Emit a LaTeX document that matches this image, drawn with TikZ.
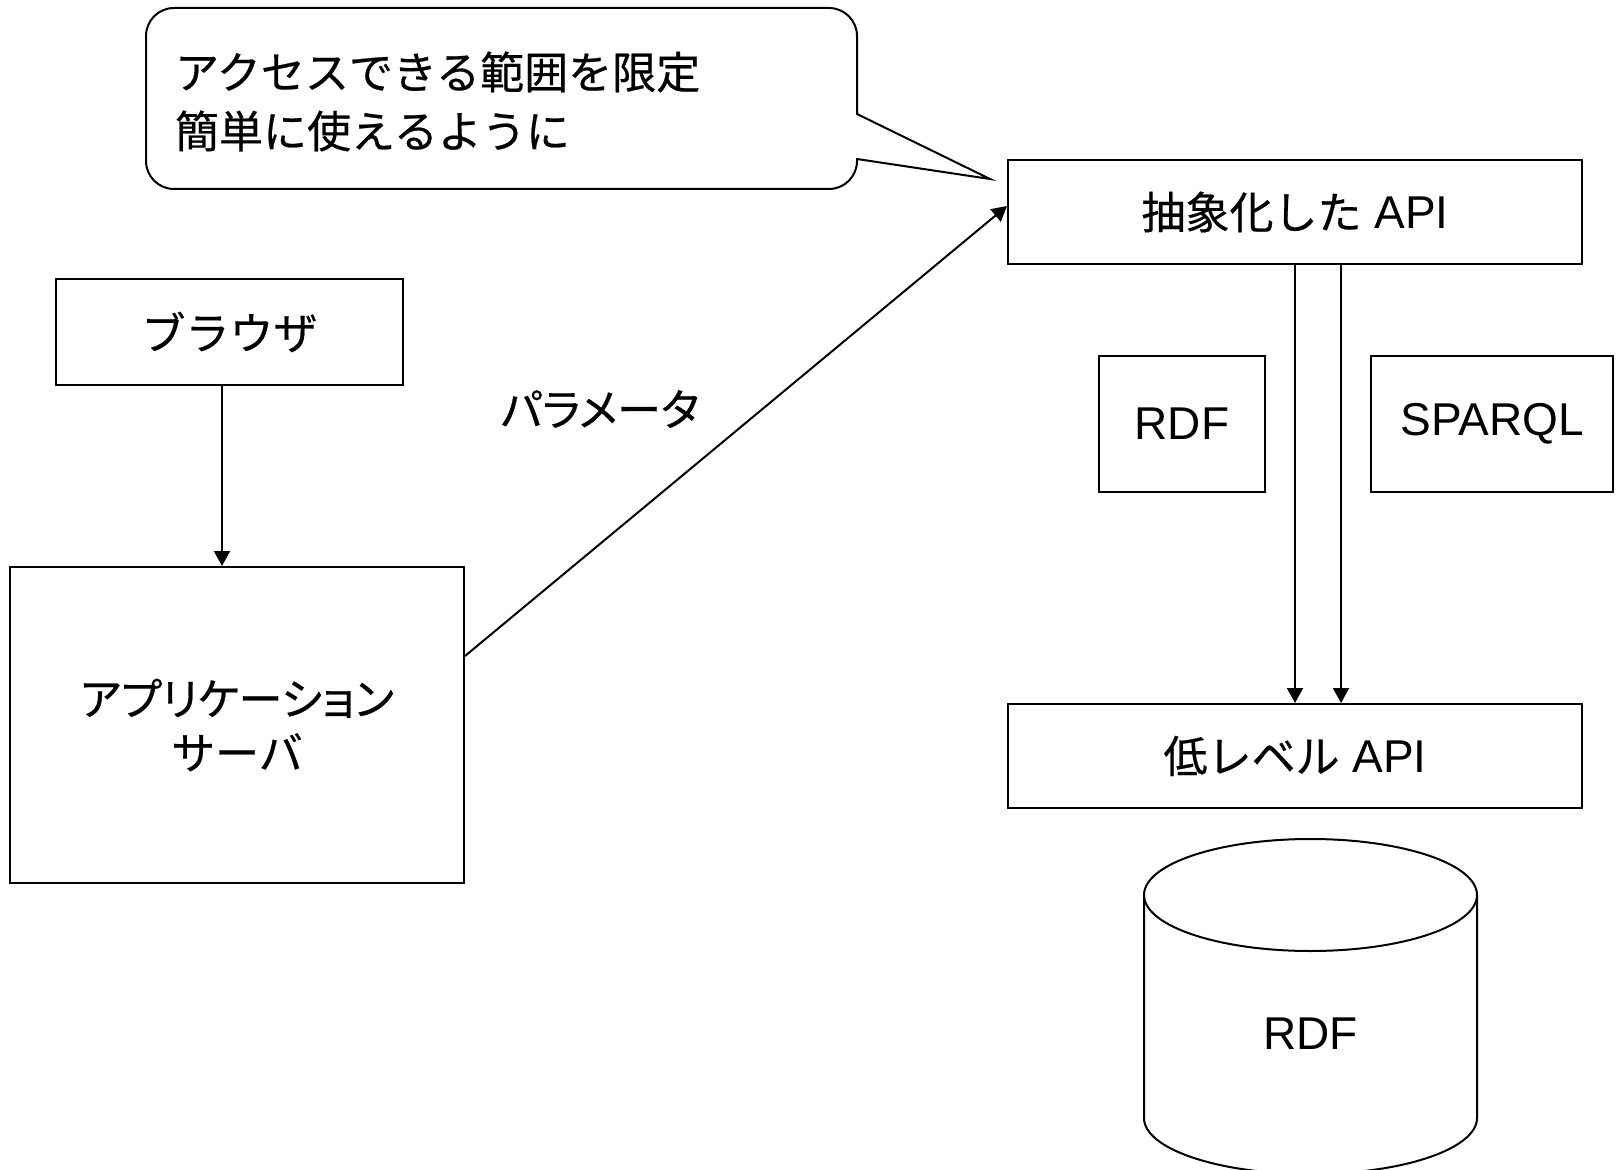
\documentclass[tikz,border=0pt]{standalone}
\usepackage{fontspec}
\setmainfont{Liberation Sans}
\newfontfamily\jpfont[Scale=0.957,FakeBold=0.5]{Noto Sans CJK JP}
\newfontfamily\jppropfont[Scale=0.957,FakeBold=0.5,RawFeature=+palt]{Noto Sans CJK JP}
\usepackage{tikz}
\usetikzlibrary{positioning,arrows.meta}

\tikzset{
  box/.style={draw,line width=1pt,inner sep=0pt},
  jp/.style={font=\fontsize{23pt}{27pt}\selectfont\jpfont},
  jpprop/.style={font=\fontsize{23pt}{27pt}\selectfont\jppropfont},
  lat/.style={font=\fontsize{23pt}{27pt}\selectfont},
  arr/.style={line width=1pt,-{Triangle[length=7.5pt,width=8pt]}}
}

\begin{document}
\begin{tikzpicture}[x=0.5pt,y=0.5pt]
    \useasboundingbox (0,0) rectangle (1616,1169);

    % speech bubble
    \draw[line width=1pt] (174,1161) -- (829,1161) arc[start angle=90,end angle=0,radius=14pt]
        -- (857,1055) -- (990,990) -- (857,1010) -- (857,1008)
        arc[start angle=0,end angle=-90,radius=14pt] -- (174,980)
        arc[start angle=270,end angle=180,radius=14pt] -- (146,1133)
        arc[start angle=180,end angle=90,radius=14pt] -- cycle;
    \node [anchor=west,align=left,font=\fontsize{23pt}{29.5pt}\selectfont\jpfont] (note) at (168,1067.5)
        {アクセスできる範囲を限定\\簡単に使えるように};

    \node [box,jp,minimum width=173.5pt,minimum height=53pt] (browser) at (229.5,837) {ブラウザ};
    \node [box,jpprop,align=center,minimum width=227pt,minimum height=158pt] (appsrv) at (237,444) {アプリケーション\\{\jpfont サーバ}};
    \node [jpprop] (param) at (600,760) {パラメータ};

    \node [box,lat,minimum width=287pt,minimum height=52pt] (absapi) at (1295,957) {{\jpfont 抽象化した} API};
    \node [box,lat,minimum width=83pt,minimum height=68pt] (rdf) at (1182,745) {RDF};
    \node [box,lat,minimum width=121pt,minimum height=68pt] (sparql) at (1492,745) {SPARQL};
    \node [box,lat,minimum width=287pt,minimum height=52pt] (lowapi) at (1295,413) {{\jpfont 低レベル} API};

    % RDF store
    \draw[line width=1pt] (1310.5,274) ellipse [x radius=83.25pt,y radius=28pt];
    \draw[line width=1pt] (1144,274) -- (1144,51) arc[start angle=180,end angle=360,x radius=83.25pt,y radius=28pt] -- (1477,274);
    \node [lat] (store) at (1310.5,135) {RDF};

    \draw[arr] ([xshift=-3.75pt]browser.south) -- ([xshift=-3.75pt]browser.south |- appsrv.north);
    \draw[arr] ([yshift=34.5pt]appsrv.east) -- ([yshift=3pt]absapi.west);
    \draw[arr] (absapi.south) -- (lowapi.north);
    \draw[arr] ([xshift=23pt]absapi.south) -- ([xshift=23pt]lowapi.north);
\end{tikzpicture}
\end{document}
